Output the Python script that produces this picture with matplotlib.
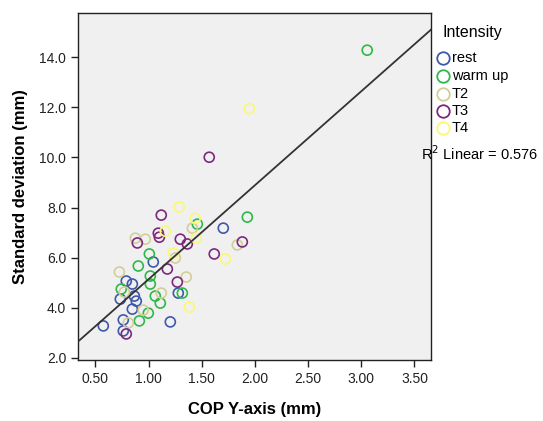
import matplotlib
matplotlib.use("Agg")
import matplotlib.pyplot as plt
from matplotlib.lines import Line2D
import numpy as np

plt.rcParams['font.family'] = ['Liberation Sans', 'DejaVu Sans']

# values
groups = ["rest", "warm up", "T2", "T3", "T4"]
colors = ["#3E58AC", "#2EB848", "#D3CE97", "#7C287D", "#FBF873"]

rest_x = [1.045, 1.703, 0.791, 0.848, 0.735, 0.867, 0.885, 1.280, 0.848, 1.205, 0.575, 0.763, 0.763]
rest_y = [5.83, 7.18, 5.07, 4.95, 4.35, 4.47, 4.27, 4.59, 3.95, 3.44, 3.28, 3.52, 3.08]

warm_x = [3.056, 1.929, 1.459, 1.008, 0.904, 1.017, 1.017, 0.744, 1.318, 1.064, 1.111, 0.998, 0.914]
warm_y = [14.28, 7.62, 7.34, 6.15, 5.67, 5.27, 4.95, 4.75, 4.59, 4.47, 4.19, 3.79, 3.48]

t2_x = [0.876, 0.970, 1.412, 0.726, 1.355, 1.120, 0.951, 0.810, 1.835, 1.252, 0.773]
t2_y = [6.78, 6.74, 7.18, 5.43, 5.23, 4.59, 3.91, 3.40, 6.51, 5.99, 4.63]

t3_x = [1.571, 1.120, 1.092, 1.102, 0.895, 1.299, 1.365, 1.177, 1.271, 0.791, 1.882, 1.618]
t3_y = [10.01, 7.70, 6.98, 6.82, 6.59, 6.74, 6.55, 5.55, 5.03, 2.96, 6.63, 6.15]

t4_x = [1.947, 1.289, 1.158, 1.440, 1.449, 1.233, 1.722, 1.383]
t4_y = [11.95, 8.02, 7.06, 7.58, 6.78, 6.19, 5.95, 4.03]

# fit line
fit_intercept = 1.39
fit_slope = 3.75
r2 = 0.576

xs = [rest_x, warm_x, t2_x, t3_x, t4_x]
ys = [rest_y, warm_y, t2_y, t3_y, t4_y]

W, H = 543, 421
fig = plt.figure(figsize=(W / 100, H / 100), dpi=100)
ax = fig.add_axes([0.1436, 0.1449, 0.650, 0.824])
ax.set_facecolor("#F0F0F0")

for x, y, c in zip(xs, ys, colors):
    ax.scatter(x, y, s=52, facecolors="none", edgecolors=c, linewidths=1.2, zorder=2)

xlim = (0.337, 3.655)
line_x = np.array(xlim)
ax.plot(line_x, fit_intercept + fit_slope * line_x, color="#333333", lw=1.3, zorder=3)

ax.set_xlim(xlim)
ax.set_ylim(1.92, 15.76)
ax.set_xticks(np.arange(0.5, 3.51, 0.5))
ax.set_yticks(np.arange(2, 14.1, 2))
ax.set_xticklabels([f"{v:.2f}" for v in np.arange(0.5, 3.51, 0.5)])
ax.set_yticklabels([f"{v:.1f}" for v in np.arange(2, 14.1, 2)])
ax.tick_params(direction="out", length=5, width=1, labelsize=10, colors="#222222")
for sp in ax.spines.values():
    sp.set_color("#222222")
    sp.set_linewidth(1)

ax.set_xlabel("COP Y-axis (mm)", fontsize=12, fontweight="bold", labelpad=12)
ax.set_ylabel("Standard deviation (mm)", fontsize=12, fontweight="bold", labelpad=8)

# legend drawn by hand, positions in pixels from the top-left corner
fig.text(442 / W, 1 - 32 / H, "Intensity", fontsize=11.5, ha="left", va="center")
row_y = [58, 76, 94, 111, 128]
for g, c, py in zip(groups, colors, row_y):
    fig.add_artist(Line2D([443 / W], [1 - py / H], transform=fig.transFigure, marker="o",
                          ls="none", markersize=9, markerfacecolor="none",
                          markeredgecolor=c, markeredgewidth=1.3))
    fig.text(452 / W, 1 - py / H, g, fontsize=10.5, ha="left", va="center")

fig.text(421 / W, 1 - 154 / H, f"R$^2$ Linear = {r2}", fontsize=10.5, ha="left", va="center")

fig.savefig("out.png", dpi=100)
